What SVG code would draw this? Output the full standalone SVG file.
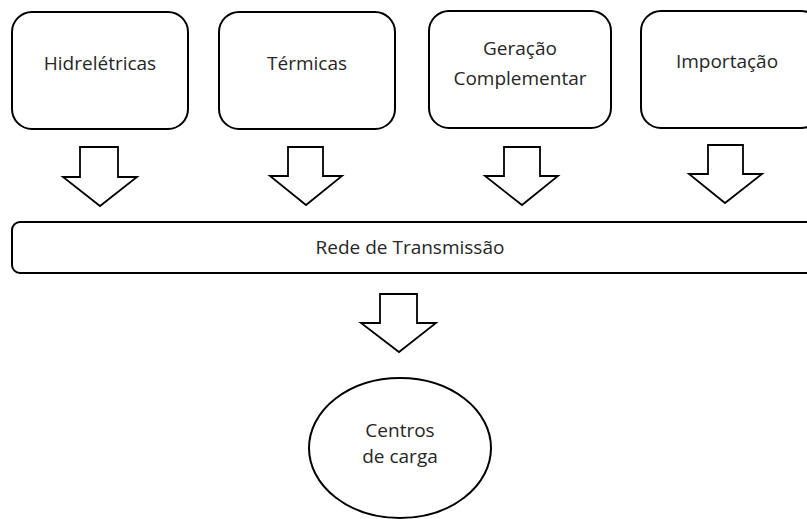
<svg xmlns="http://www.w3.org/2000/svg" width="807" height="519" viewBox="0 0 807 519">
<style>
.box{fill:#fff;stroke:#000;stroke-width:2}
.arr{fill:#fff;stroke:#000;stroke-width:1.8;stroke-linejoin:miter}
text{font-family:"Open Sans","Liberation Sans",sans-serif;font-size:19px;fill:#262626;text-anchor:middle}
</style>
<rect width="807" height="519" fill="#fff"/>
<g id="hidreletricas"><rect class="box" x="12" y="12" width="176" height="117" rx="20"/><text x="100" y="70">Hidrelétricas</text></g>
<g id="termicas"><rect class="box" x="219" y="12" width="176" height="117" rx="20"/><text x="307" y="70">Térmicas</text></g>
<g id="geracao"><rect class="box" x="429" y="11" width="182" height="117" rx="20"/><text x="520" y="55">Geração</text><text x="520" y="85">Complementar</text></g>
<g id="importacao"><rect class="box" x="641" y="11" width="180" height="117" rx="20"/><text x="727" y="68">Importação</text></g>
<g id="rede"><rect class="box" x="12" y="222" width="810" height="51" rx="8"/><text x="410" y="254">Rede de Transmissão</text></g>
<g id="centros"><ellipse class="box" cx="400" cy="448" rx="91" ry="70"/><text x="400" y="437">Centros</text><text x="400" y="463">de carga</text></g>
<g id="connectors">
<polygon class="arr" points="80,147 118,147 118,177 137,177 100,206 63,177 80,177"/>
<polygon class="arr" points="288,147 323,147 323,176 342,176 306,205 270,176 288,176"/>
<polygon class="arr" points="504,147 540,147 540,176 558,176 522,205 485,176 504,176"/>
<polygon class="arr" points="708,145 743,145 743,174 762,174 725,203 689,174 708,174"/>
<polygon class="arr" points="380,294 417,294 417,323 436,323 399,352 361,323 380,323"/>
</g>
</svg>
